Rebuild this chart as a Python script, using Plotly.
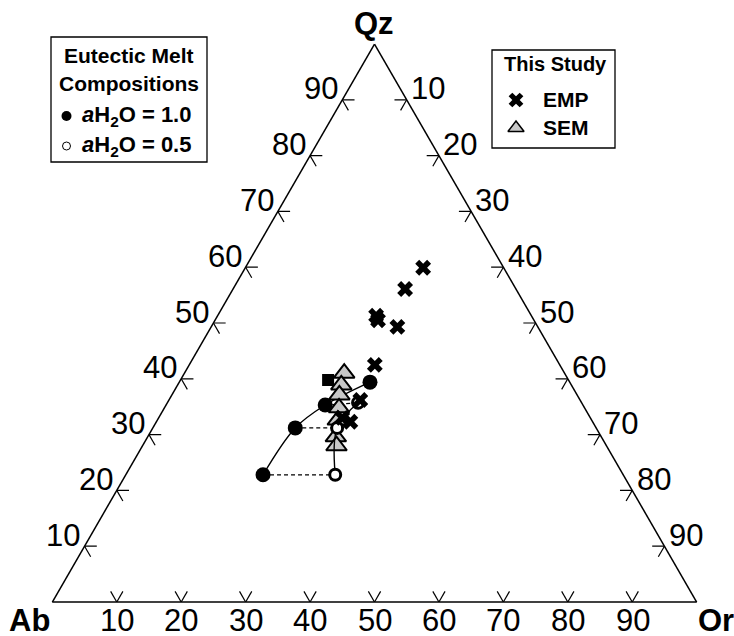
import plotly.graph_objects as go

# ---------------- data (percent Qz, Ab, Or) ----------------
ticks = [10, 20, 30, 40, 50, 60, 70, 80, 90]
tick_text = [str(t) for t in ticks]

# Eutectic melt compositions, aH2O = 1.0 (filled circles)
wet_qz = [22.8, 31.2, 35.3, 39.4]
wet_or = [21.3, 22.1, 24.7, 29.6]
# Eutectic melt compositions, aH2O = 0.5 (open circles)
dry_qz = [22.8, 31.2, 35.7]
dry_or = [32.5, 28.6, 29.6]
# filled square
sq_qz = [39.8]
sq_or = [22.9]
# This study: SEM (triangles)
sem_qz = [41.0, 38.9, 37.1, 34.8, 32.6, 29.6, 28.0]
sem_or = [24.8, 25.4, 26.0, 27.1, 28.0, 29.2, 30.1]
# This study: EMP (crosses)
emp_qz = [59.9, 56.1, 51.3, 50.5, 49.3, 42.5, 36.2, 32.3, 33.0]
emp_or = [27.6, 26.7, 24.6, 25.3, 28.9, 28.8, 29.7, 30.1, 28.5]


def ab(q, o):
    return [100 - a - b for a, b in zip(q, o)]


FONT = "Liberation Sans, Arial, Helvetica, sans-serif"
W, H = 734, 636
# ternary placement in pixels (corners)
X0, X1, YB, YT = 52, 697, 602, 44

fig = go.Figure()

# tick chevrons (stubs of the two non-edge grid directions)
d = 1.9
ca, cb, cc = [], [], []
for t in ticks:
    A = t
    for (a2, b2, c2) in [(A, 100 - A - d, d), (A - d, 100 - A, d)]:
        ca += [A, a2, None]; cb += [100 - A, b2, None]; cc += [0, c2, None]
    C = t
    for (a2, b2, c2) in [(100 - C, d, C - d), (100 - C - d, d, C)]:
        ca += [100 - C, a2, None]; cb += [0, b2, None]; cc += [C, c2, None]
    for (a2, b2, c2) in [(d, 100 - C, C - d), (d, 100 - C - d, C)]:
        ca += [0, a2, None]; cb += [100 - C, b2, None]; cc += [C, c2, None]
fig.add_trace(go.Scatterternary(a=ca, b=cb, c=cc, mode="lines",
                                line=dict(color="black", width=1.2),
                                hoverinfo="skip", showlegend=False))

# dashed tie lines between aH2O = 1.0 and 0.5 at equal Qz
for i in range(3):
    fig.add_trace(go.Scatterternary(
        a=[wet_qz[i], dry_qz[i]], b=ab([wet_qz[i], dry_qz[i]], [wet_or[i], dry_or[i]]),
        c=[wet_or[i], dry_or[i]], mode="lines",
        line=dict(color="black", width=1.3, dash="4px,3px"),
        hoverinfo="skip", showlegend=False))

# aH2O = 1.0 curve
fig.add_trace(go.Scatterternary(a=wet_qz, b=ab(wet_qz, wet_or), c=wet_or,
                                mode="lines+markers",
                                line=dict(color="black", width=1.4, shape="spline"),
                                marker=dict(symbol="circle", size=15, color="black"),
                                showlegend=False))
# square
fig.add_trace(go.Scatterternary(a=sq_qz, b=ab(sq_qz, sq_or), c=sq_or, mode="markers",
                                marker=dict(symbol="square", size=12, color="black"),
                                showlegend=False))
# SEM triangles
fig.add_trace(go.Scatterternary(a=sem_qz, b=ab(sem_qz, sem_or), c=sem_or, mode="markers",
                                marker=dict(symbol="triangle-up", size=18, color="#c8c8c8",
                                            line=dict(color="black", width=2)),
                                showlegend=False))
# aH2O = 0.5 curve
fig.add_trace(go.Scatterternary(a=dry_qz, b=ab(dry_qz, dry_or), c=dry_or,
                                mode="lines+markers",
                                line=dict(color="black", width=1.4, shape="spline"),
                                marker=dict(symbol="circle", size=11, color="white",
                                            line=dict(color="black", width=3)),
                                showlegend=False))
# EMP crosses
fig.add_trace(go.Scatterternary(a=emp_qz, b=ab(emp_qz, emp_or), c=emp_or, mode="markers",
                                marker=dict(symbol="x", size=14, color="black",
                                            line=dict(width=0)),
                                showlegend=False))

# ---------------- legend symbols on a hidden pixel-space axis ----------------
leg_x = [66.5, 66.5, 516, 516]
leg_y = [116, 146, 100, 128]
fig.add_trace(go.Scatter(x=leg_x[:1], y=leg_y[:1], mode="markers",
                         marker=dict(symbol="circle", size=10, color="black"),
                         xaxis="x", yaxis="y", hoverinfo="skip", showlegend=False))
fig.add_trace(go.Scatter(x=leg_x[1:2], y=leg_y[1:2], mode="markers",
                         marker=dict(symbol="circle", size=8, color="white",
                                     line=dict(color="black", width=1)),
                         xaxis="x", yaxis="y", hoverinfo="skip", showlegend=False))
fig.add_trace(go.Scatter(x=leg_x[2:3], y=leg_y[2:3], mode="markers",
                         marker=dict(symbol="x", size=13, color="black", line=dict(width=0)),
                         xaxis="x", yaxis="y", hoverinfo="skip", showlegend=False))
fig.add_trace(go.Scatter(x=leg_x[3:], y=leg_y[3:], mode="markers",
                         marker=dict(symbol="triangle-up", size=14, color="#c8c8c8",
                                     line=dict(color="black", width=1.5)),
                         xaxis="x", yaxis="y", hoverinfo="skip", showlegend=False))

axis_common = dict(showgrid=False, ticks="", linecolor="black", linewidth=1.5,
                   showticklabels=False, min=0, title=dict(text=""))
fig.update_layout(
    width=W, height=H,
    margin=dict(l=0, r=0, t=0, b=0),
    paper_bgcolor="white", plot_bgcolor="rgba(0,0,0,0)",
    xaxis=dict(range=[0, W], visible=False, domain=[0, 1], fixedrange=True),
    yaxis=dict(range=[H, 0], visible=False, domain=[0, 1], fixedrange=True),
    ternary=dict(
        sum=100,
        bgcolor="white",
        domain=dict(x=[X0 / W, X1 / W], y=[1 - YB / H, 1 - YT / H]),
        aaxis=axis_common, baxis=axis_common, caxis=axis_common,
    ),
)


def px(x):
    return x / W


def py(y):
    return 1 - y / H


def tern_px(a, c):
    """pixel position of a ternary point (a=Qz, c=Or, percent)"""
    x = X0 + (X1 - X0) * (c / 100 + a / 200)
    y = YB - (YB - YT) * a / 100
    return x, y


def txt(x, y, s, size=20, anchor="left", bold=False, height=None):
    kw = {}
    if height:
        kw["height"] = height
    fig.add_annotation(x=px(x), y=py(y), xref="paper", yref="paper",
                       text=("<b>%s</b>" % s) if bold else s,
                       showarrow=False, xanchor=anchor, yanchor="middle",
                       font=dict(family=FONT, size=size, color="black"), **kw)


# tick labels
for t, s in zip(ticks, tick_text):
    x, y = tern_px(t, 0)          # left edge: Qz
    txt(x - 2, y - 11, s, size=31, anchor="right")
    x, y = tern_px(100 - t, t)    # right edge: Or
    txt(x + 2, y - 11, s, size=31, anchor="left")
    x, y = tern_px(0, t)          # bottom edge: Or
    txt(x, 620, s, size=31, anchor="center", height=28)

# corner titles
txt(374, 24, "Qz", size=31, anchor="center", bold=True)
txt(29, 620, "Ab", size=31, anchor="center", bold=True, height=28)
txt(716, 620, "Or", size=31, anchor="center", bold=True, height=28)

# ---------------- legend boxes ----------------
fig.add_shape(type="rect", xref="paper", yref="paper",
              x0=px(51), x1=px(207), y0=py(162), y1=py(37),
              line=dict(color="black", width=1.3), fillcolor="rgba(0,0,0,0)", layer="below")
fig.add_shape(type="rect", xref="paper", yref="paper",
              x0=px(492), x1=px(615), y0=py(148), y1=py(50),
              line=dict(color="black", width=1.3), fillcolor="rgba(0,0,0,0)", layer="below")

txt(129, 56, "Eutectic Melt", size=21, anchor="center", bold=True)
txt(129, 83, "Compositions", size=21, anchor="center", bold=True)
txt(80, 116, "<i>a</i>H<sub>2</sub>O = 1.0", size=22, bold=True)
txt(80, 146, "<i>a</i>H<sub>2</sub>O = 0.5", size=22, bold=True)

txt(555, 64, "This Study", size=20, anchor="center", bold=True)
txt(541, 100, "EMP", size=21, bold=True)
txt(541, 128, "SEM", size=21, bold=True)

fig.write_html("out.html")
